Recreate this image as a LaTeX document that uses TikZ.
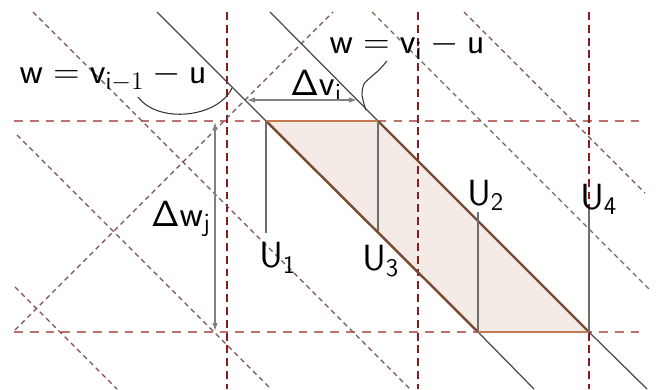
\documentclass[tikz,border=0pt]{standalone}
\usepackage{tikz}
\usetikzlibrary{arrows.meta}
\definecolor{gridred}{HTML}{8B1A1A}
\definecolor{rowred}{HTML}{C07070}
\definecolor{diagbrown}{HTML}{7A5050}
\definecolor{diagolive}{HTML}{6E6E4E}
\definecolor{edgeorange}{HTML}{C47A50}
\definecolor{edgebrown}{HTML}{7A4A32}
\definecolor{cellfill}{HTML}{F5EBE6}
\definecolor{linegray}{HTML}{484848}

\begin{document}
\begin{tikzpicture}[x=0.02cm,y=-0.02cm,every node/.style={font=\fontsize{19.5}{23}\selectfont,inner sep=0pt},vgrid/.style={draw=gridred,line width=1.1pt,dash pattern=on 4.5pt off 2.8pt},hgrid/.style={draw=rowred,line width=1.1pt,dash pattern=on 5pt off 4pt},diag/.style={draw=#1,line width=0.75pt,dash pattern=on 2.8pt off 2.2pt},wline/.style={draw=linegray,line width=0.7pt},celledge/.style={draw=#1,line width=1.4pt},tick/.style={draw=linegray!80,line width=0.7pt},dim/.style={draw=gray,line width=0.7pt,{Latex[length=1.6mm,width=1.1mm]}-{Latex[length=1.6mm,width=1.1mm]}},lead/.style={draw=black!80,line width=0.6pt}]
\useasboundingbox (0,0) rectangle (656,389);
% corners of the cell
\coordinate (pA) at (266,121);
\coordinate (pB) at (378,121);
\coordinate (pC) at (589,332);
\coordinate (pD) at (478,332);
\fill[cellfill] (pA)--(pB)--(pC)--(pD)--cycle;
% grid
\draw[hgrid] (14,121)--(645,121);
\draw[hgrid] (14,332)--(645,332);
\foreach \x in {227,418,589} \draw[vgrid] (\x,12)--(\x,389);
\draw[diag=diagbrown] (33,12)--(410,389);
\draw[diag=diagbrown] (17,135)--(271,389);
\draw[diag=diagbrown] (15,287)--(117,389);
\draw[diag=diagbrown] (15,330)--(333,12);
\draw[diag=diagbrown] (464,12)--(645,193);
\draw[diag=diagolive] (372,12)--(650,290);
% the two w lines
\draw[wline] (157,12)--(pA);
\draw[wline] (pD)--(534,389);
\draw[wline] (270,12)--(pB);
\draw[wline] (pC)--(647,389);
\draw[celledge=edgebrown] (pA)--(pD);
\draw[celledge=edgebrown] (pB)--(pC);
\draw[celledge=edgeorange] (pA)--(pB);
\draw[celledge=edgeorange] (pD)--(pC);
% labels
\node (wprev) at (113,77) {$\mathsf{w}=\mathsf{v}_{\mathsf{i}-1}-\mathsf{u}$};
\node (wcur) at (407,46) {$\mathsf{w}=\mathsf{v}_{\mathsf{i}}-\mathsf{u}$};
\node (dv) at (316,86) {$\mathsf{\Delta v}_{\mathsf{i}}$};
\node (dw) at (181,219) {$\mathsf{\Delta w}_{\mathsf{j}}$};
\node[anchor=north west] (u1) at (259,242) {$\mathsf{U}_{\mathsf{1}}$};
\node[anchor=north west] (u3) at (362,245) {$\mathsf{U}_{\mathsf{3}}$};
\node[anchor=base west] (u2) at (467,205) {$\mathsf{U}_{\mathsf{2}}$};
\node[anchor=base west] (u4) at (580,209) {$\mathsf{U}_{\mathsf{4}}$};
% ticks to the labels
\coordinate (t1) at (266,233);
\coordinate (t3) at (378,231);
\coordinate (t2) at (478,212);
\coordinate (t4) at (589,209);
\draw[tick] (pA)--(t1);
\draw[tick] (pB)--(t3);
\draw[tick] (pD)--(t2);
\draw[tick] (pC)--(t4);
% dimensions
\coordinate (dv1) at (247,100);
\coordinate (dv2) at (357,100);
\coordinate (dw1) at (215,122);
\coordinate (dw2) at (215,331);
\draw[dim] (dv1)--(dv2);
\draw[dim] (dw1)--(dw2);
% leaders
\coordinate (l1) at (138,97);
\coordinate (l2) at (232,88);
\draw[lead] (l1) .. controls (158,124) and (218,118) .. (l2);
\coordinate (l3) at (387,61);
\draw[lead] plot[smooth] coordinates {(l3) (379,70) (371,77) (364,84) (362,94) (364,104) (366,110)};
\end{tikzpicture}
\end{document}
